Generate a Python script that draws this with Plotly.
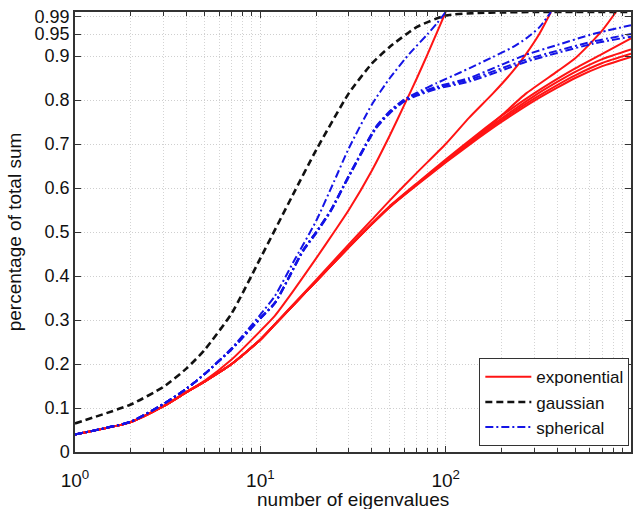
import plotly.graph_objects as go

# Cumulative share of the eigenvalue sum, per covariance model
gauss_n = [1, 2, 3, 4, 5, 7, 10, 15, 20, 30, 40, 50, 70, 100, 150, 200, 300, 500, 1000]
gauss_v = [0.065, 0.108, 0.148, 0.19, 0.232, 0.315, 0.44, 0.585, 0.686, 0.815, 0.883,
           0.921, 0.966, 0.992, 0.998, 0.999, 1.0, 1.0, 1.0]

exp_n_100 = [1, 2, 3, 4, 5, 7, 10, 12, 15, 20, 25, 30, 40, 50, 60, 70, 80, 90, 100]
exp_v_100 = [0.04, 0.068, 0.104, 0.137, 0.162, 0.21, 0.275, 0.31, 0.365, 0.44, 0.5, 0.55,
             0.64, 0.72, 0.79, 0.85, 0.905, 0.955, 1.0]

exp_n_370 = [1, 2, 3, 4, 5, 7, 10, 12, 15, 20, 30, 40, 50, 70, 100, 134, 180, 230, 272, 320, 370]
exp_v_370 = [0.04, 0.068, 0.104, 0.136, 0.16, 0.2, 0.256, 0.291, 0.335, 0.391, 0.472,
             0.528, 0.572, 0.635, 0.70, 0.76, 0.815, 0.865, 0.905, 0.95, 1.0]

exp_n_830 = [1, 2, 3, 4, 5, 7, 10, 12, 15, 20, 30, 40, 50, 70, 100, 150, 200, 272, 400, 500, 624, 700, 830]
exp_v_830 = [0.04, 0.068, 0.104, 0.136, 0.16, 0.2, 0.255, 0.29, 0.333, 0.388, 0.466,
             0.519, 0.558, 0.609, 0.661, 0.72, 0.765, 0.815, 0.865, 0.895, 0.935, 0.958, 1.0]

exp_n_big = [1, 2, 3, 4, 5, 7, 10, 12, 15, 20, 30, 40, 50, 70, 100, 150, 200, 300, 400, 500, 700, 1000]
exp_v_a = [0.04, 0.068, 0.104, 0.136, 0.16, 0.2, 0.255, 0.29, 0.333, 0.388, 0.465, 0.518,
           0.557, 0.607, 0.658, 0.713, 0.75, 0.798, 0.828, 0.85, 0.877, 0.898]
exp_v_b = [0.04, 0.068, 0.104, 0.136, 0.16, 0.2, 0.255, 0.29, 0.333, 0.388, 0.465, 0.518,
           0.557, 0.608, 0.66, 0.716, 0.754, 0.803, 0.834, 0.856, 0.884, 0.905]
exp_v_c = [0.04, 0.068, 0.104, 0.136, 0.16, 0.2, 0.255, 0.29, 0.333, 0.388, 0.466, 0.519,
           0.558, 0.609, 0.662, 0.719, 0.758, 0.809, 0.841, 0.864, 0.893, 0.915]
exp_v_d = [0.04, 0.068, 0.104, 0.136, 0.16, 0.2, 0.255, 0.29, 0.333, 0.388, 0.466, 0.519,
           0.559, 0.611, 0.665, 0.724, 0.764, 0.815, 0.848, 0.872, 0.905, 0.94]

sph_n_100 = [1, 2, 3, 4, 5, 7, 10, 12, 15, 20, 25, 30, 40, 50, 64, 80, 90, 100]
sph_v_100 = [0.04, 0.069, 0.109, 0.144, 0.177, 0.236, 0.312, 0.355, 0.43, 0.525, 0.615,
             0.69, 0.79, 0.85, 0.906, 0.95, 0.975, 1.0]

sph_n_370 = [1, 2, 3, 4, 5, 7, 10, 12, 17, 20, 24, 30, 42, 50, 59, 70, 89, 119, 134, 180, 230, 272, 320, 370]
sph_v_370 = [0.04, 0.069, 0.109, 0.144, 0.177, 0.234, 0.305, 0.34, 0.459, 0.50, 0.55, 0.628,
             0.739, 0.775, 0.80, 0.817, 0.838, 0.862, 0.872, 0.898, 0.92, 0.94, 0.965, 1.0]

sph_n_big = [1, 2, 3, 4, 5, 7, 10, 12, 17, 20, 24, 30, 42, 50, 59, 70, 89, 134, 200, 272, 400, 624, 1000]
sph_v_a = [0.04, 0.069, 0.109, 0.144, 0.177, 0.233, 0.303, 0.338, 0.456, 0.497, 0.547, 0.625,
           0.735, 0.77, 0.795, 0.81, 0.825, 0.842, 0.867, 0.887, 0.907, 0.928, 0.944]
sph_v_b = [0.04, 0.069, 0.109, 0.144, 0.177, 0.234, 0.304, 0.339, 0.458, 0.499, 0.549, 0.627,
           0.737, 0.773, 0.798, 0.813, 0.828, 0.846, 0.872, 0.892, 0.912, 0.933, 0.95]
sph_v_c = [0.04, 0.069, 0.109, 0.144, 0.177, 0.234, 0.304, 0.339, 0.458, 0.499, 0.549, 0.627,
           0.737, 0.773, 0.798, 0.814, 0.83, 0.85, 0.88, 0.903, 0.925, 0.95, 0.97]

x_tick_vals = [1, 10, 100, 1000]
x_tick_text = ["10<sup>0</sup>", "10<sup>1</sup>", "10<sup>2</sup>", "10<sup>3</sup>"]
y_tick_vals = [0, 0.1, 0.2, 0.3, 0.4, 0.5, 0.6, 0.7, 0.8, 0.9, 0.95, 0.99]
y_tick_text = ["0", "0.1", "0.2", "0.3", "0.4", "0.5", "0.6", "0.7", "0.8", "0.9", "0.95", "0.99"]
x_minor_vals = [m * 10 ** d for d in range(3) for m in range(2, 10)]

RED = "#ff1414"
BLUE = "#1414e6"
BLACK = "#111111"
AXIS = "#333333"
TEXT = "#111111"
FONT = "Liberation Sans, Arial, Helvetica, sans-serif"
SMOOTH = 0.55

fig = go.Figure()

red_curves = [(exp_n_big, exp_v_a), (exp_n_big, exp_v_b), (exp_n_big, exp_v_c),
              (exp_n_big, exp_v_d), (exp_n_830, exp_v_830), (exp_n_370, exp_v_370),
              (exp_n_100, exp_v_100)]
for i, (n, v) in enumerate(red_curves):
    fig.add_trace(go.Scatter(x=n, y=v, mode="lines", name="exponential",
                             showlegend=(i == 0),
                             line=dict(color=RED, width=2, shape="spline", smoothing=SMOOTH)))

fig.add_trace(go.Scatter(x=gauss_n, y=gauss_v, mode="lines", name="gaussian",
                         line=dict(color=BLACK, width=2.6, dash="7px,4px",
                                   shape="spline", smoothing=SMOOTH)))

blue_curves = [(sph_n_big, sph_v_a), (sph_n_big, sph_v_b), (sph_n_big, sph_v_c),
               (sph_n_370, sph_v_370), (sph_n_100, sph_v_100)]
for i, (n, v) in enumerate(blue_curves):
    fig.add_trace(go.Scatter(x=n, y=v, mode="lines", name="spherical",
                             showlegend=(i == 0),
                             line=dict(color=BLUE, width=2, dash="8px,3px,2px,3px",
                                       shape="spline", smoothing=SMOOTH)))

grid = dict(showgrid=True, gridcolor="#cfcfcf", gridwidth=1, griddash="1px,2px")

fig.update_xaxes(type="log", range=[0, 3], tickvals=x_tick_vals, ticktext=x_tick_text,
                 ticks="inside", ticklen=6, tickcolor=AXIS, ticklabelstandoff=10,
                 showline=True, linecolor=AXIS, linewidth=1.5, mirror="ticks",
                 automargin=False,
                 minor=dict(tickvals=x_minor_vals, ticks="inside", ticklen=4,
                            tickcolor=AXIS, showgrid=True, gridcolor="#d4d4d4",
                            griddash="1px,2px", gridwidth=1),
                 tickfont=dict(size=19, color=TEXT), zeroline=False, **grid)

fig.update_yaxes(range=[0, 1], tickvals=y_tick_vals, ticktext=y_tick_text,
                 ticks="inside", ticklen=6, tickcolor=AXIS,
                 showline=True, linecolor=AXIS, linewidth=1.5, mirror="ticks",
                 automargin=False,
                 title=dict(text="percentage of total sum", standoff=8,
                            font=dict(size=19, color=TEXT)),
                 tickfont=dict(size=18, color=TEXT), zeroline=False, **grid)

# x-axis caption placed just below the tick labels
fig.add_annotation(text="number of eigenvalues", xref="paper", yref="paper",
                   x=0.5, y=-0.107, xanchor="center", yanchor="middle",
                   showarrow=False, font=dict(size=19, color=TEXT))

fig.update_layout(
    width=643, height=509,
    margin=dict(l=75, r=12, t=12, b=57),
    paper_bgcolor="white", plot_bgcolor="white",
    font=dict(family=FONT, size=19, color=TEXT),
    legend=dict(x=0.997, y=0.013, xanchor="right", yanchor="bottom",
                bgcolor="white", bordercolor=AXIS, borderwidth=1,
                font=dict(size=17), tracegroupgap=0, itemwidth=46),
)

fig.write_html("out.html")
